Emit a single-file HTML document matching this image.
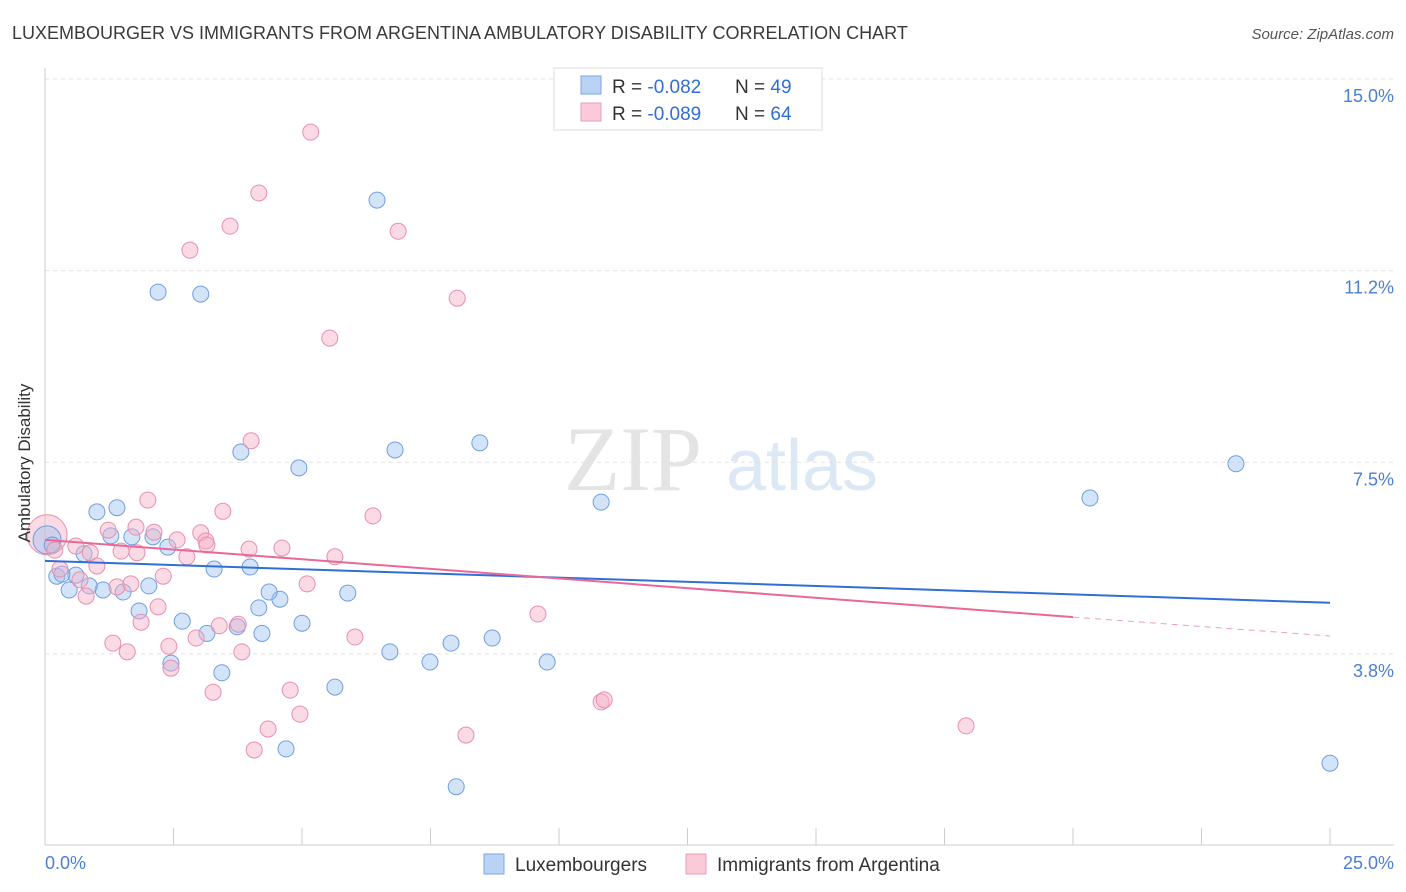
<!DOCTYPE html>
<html><head><meta charset="utf-8"><style>
body{margin:0;background:#fff;font-family:"Liberation Sans",sans-serif;}
svg{display:block}
</style></head><body>
<svg width="1406" height="892" viewBox="0 0 1406 892" id="svg">
<text x="12" y="39" font-size="18" fill="#3a3a3a">LUXEMBOURGER VS IMMIGRANTS FROM ARGENTINA AMBULATORY DISABILITY CORRELATION CHART</text>
<text x="1394" y="39" font-size="15" font-style="italic" fill="#555" text-anchor="end">Source: ZipAtlas.com</text>
<text x="633" y="490" font-size="92" font-family="Liberation Serif,serif" fill="#e4e4e4" text-anchor="middle">ZIP</text>
<text x="802" y="490" font-size="72" fill="#dde8f5" text-anchor="middle">atlas</text>
<g id="grid"></g>
<g id="axes"></g>
<g id="marks"></g>
<text x="22" y="455" font-size="17" fill="#333" transform="rotate(-90 30 455)" text-anchor="middle">Ambulatory Disability</text>
<text x="45" y="869" font-size="18" fill="#4a7fd4">0.0%</text>
<text x="1394" y="869" font-size="18" fill="#4a7fd4" text-anchor="end">25.0%</text>
<g>
<rect x="554" y="68" width="268" height="62" fill="#fff" stroke="#ddd"/>
<rect x="581" y="76" width="20" height="18" fill="#b9d3f5" stroke="#7aa6e6"/>
<rect x="581" y="103" width="20" height="18" fill="#fbc9d7" stroke="#ee9db5"/>
<text x="612" y="93" font-size="19" fill="#333">R = <tspan fill="#2f6fd6">-0.082</tspan><tspan x="735">N = </tspan><tspan fill="#2f6fd6">49</tspan></text>
<text x="612" y="120" font-size="19" fill="#333">R = <tspan fill="#2f6fd6">-0.089</tspan><tspan x="735">N = </tspan><tspan fill="#2f6fd6">64</tspan></text>
</g>
<g>
<rect x="484" y="854" width="20" height="20" fill="#b9d3f5" stroke="#7aa6e6"/>
<text x="515" y="871" font-size="19" fill="#333">Luxembourgers</text>
<rect x="686" y="854" width="20" height="20" fill="#fbc9d7" stroke="#ee9db5"/>
<text x="717" y="871" font-size="19" fill="#333">Immigrants from Argentina</text>
</g>
</svg>
<script>
const yTicks=[3.75,7.5,11.25,15];
const yTickLabels=["3.8%","7.5%","11.2%","15.0%"];
const xTicks=[0,2.5,5,7.5,10,12.5,15,17.5,20,22.5,25];
const blueX=[6.46,2.20,3.03,3.81,4.94,6.81,8.46,10.82,23.17,20.33,25.0,8.00,4.69,5.64,3.44,2.45,6.71,7.49,7.90,8.70,9.77,5.89,5.00,4.57,4.22,4.36,4.16,3.74,3.15,2.67,1.83,2.02,1.52,1.13,0.86,0.47,0.60,0.23,0.33,0.14,0.76,1.01,1.40,1.28,1.69,2.10,2.39,3.29,3.99];
const blueY=[12.63,10.83,10.79,7.70,7.39,7.74,7.88,6.72,7.47,6.80,1.61,1.15,1.89,3.10,3.38,3.57,3.79,3.59,3.96,4.06,3.59,4.94,4.35,4.82,4.15,4.96,4.65,4.28,4.15,4.39,4.59,5.08,4.96,5.00,5.08,5.00,5.29,5.27,5.31,5.88,5.71,6.53,6.61,6.06,6.04,6.04,5.84,5.41,5.45];
const pinkX=[5.17,4.16,3.60,2.82,6.87,8.02,5.54,4.01,2.00,3.46,6.38,1.23,1.77,2.12,3.03,2.57,3.13,3.15,3.97,4.61,5.64,2.76,1.79,1.48,0.88,0.60,0.19,1.01,0.29,0.68,1.40,1.67,2.30,5.10,0.80,2.20,1.87,3.39,3.76,2.94,6.03,9.59,1.32,1.60,2.41,3.83,2.45,3.27,4.77,4.96,4.34,4.07,8.19,10.82,10.88,17.92];
const pinkY=[13.96,12.77,12.12,11.65,12.02,10.71,9.93,7.92,6.76,6.54,6.45,6.17,6.23,6.13,6.12,5.98,5.96,5.88,5.80,5.82,5.65,5.65,5.73,5.76,5.73,5.86,5.78,5.47,5.41,5.20,5.06,5.12,5.27,5.12,4.88,4.67,4.37,4.30,4.33,4.06,4.08,4.53,3.96,3.79,3.90,3.79,3.47,3.00,3.04,2.57,2.28,1.87,2.16,2.81,2.85,2.34];
const bigBlue=[0.04,5.98], bigPink=[0.04,6.08];
const blueTrendX=[0,25], blueTrendY=[5.57,4.75];
const pinkTrendX=[0,20,25], pinkTrendY=[5.98,4.47,4.10];
const NS="http://www.w3.org/2000/svg";
const X=v=>45+v*1285/25, Y=v=>845.5-v*51.1;
function mk(t,a,p){const e=document.createElementNS(NS,t);for(const k in a)e.setAttribute(k,a[k]);document.getElementById(p).appendChild(e);return e;}
yTicks.forEach((t,i)=>{
 const l=mk('line',{x1:45,x2:1394,y1:Y(t),y2:Y(t),stroke:'#e2e2e2','stroke-dasharray':'4,4'},'grid');
 
 
 const tx=mk('text',{x:1394,y:Y(t)+23,'font-size':18,fill:'#4a7fd4','text-anchor':'end'},'grid');
 tx.textContent=yTickLabels[i];
 
 
});
let a=mk('line',{x1:45,x2:45,y1:68,y2:845,stroke:'#ccc'},'axes');


a=mk('line',{x1:45,x2:1394,y1:845,y2:845,stroke:'#ccc'},'axes');


xTicks.forEach(t=>{const l=mk('line',{x1:X(t),x2:X(t),y1:828,y2:845,stroke:'#ccc'},'axes');
 
 });
function dot(x,y,r,blue){const c=mk('circle',{cx:X(x),cy:Y(y),r:r,fill:blue?'rgba(160,196,240,0.45)':'rgba(245,175,198,0.45)',stroke:blue?'#6f9fe0':'#e98fac','stroke-width':1},'marks');
 
 }
dot(bigPink[0],bigPink[1],20,false);
dot(bigBlue[0],bigBlue[1],14,true);
blueX.forEach((x,i)=>dot(x,blueY[i],8,true));
pinkX.forEach((x,i)=>dot(x,pinkY[i],8,false));
let tl=mk('line',{x1:X(blueTrendX[0]),y1:Y(blueTrendY[0]),x2:X(blueTrendX[1]),y2:Y(blueTrendY[1]),stroke:'#2f6fd6','stroke-width':2},'marks');


tl=mk('line',{x1:X(pinkTrendX[0]),y1:Y(pinkTrendY[0]),x2:X(pinkTrendX[1]),y2:Y(pinkTrendY[1]),stroke:'#e8689a','stroke-width':2},'marks');


tl=mk('line',{x1:X(pinkTrendX[1]),y1:Y(pinkTrendY[1]),x2:X(pinkTrendX[2]),y2:Y(pinkTrendY[2]),stroke:'#e8a0b8','stroke-width':1,'stroke-dasharray':'6,5'},'marks');


</script>
</body></html>
